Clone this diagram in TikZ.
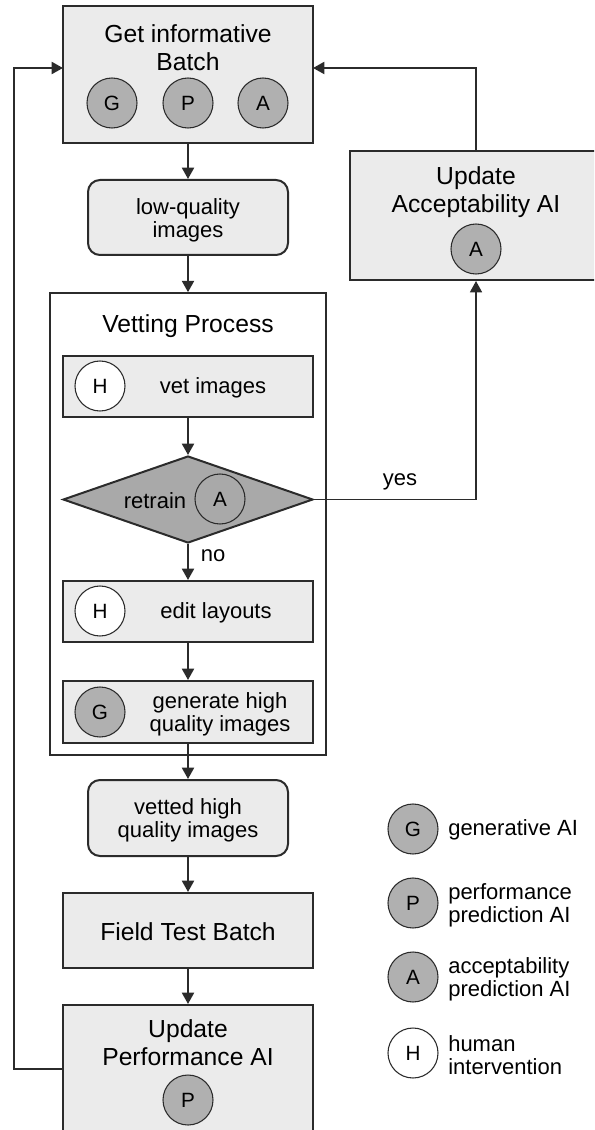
\documentclass[tikz,border=0pt]{standalone}
\usepackage{fontspec}
\setmainfont{Liberation Sans}
\usetikzlibrary{arrows.meta,shapes.geometric}
\definecolor{boxfill}{HTML}{EBEBEB}
\definecolor{circfill}{HTML}{B0B0B0}
\definecolor{diafill}{HTML}{A9A9A9}
\definecolor{edge}{HTML}{2B2B2B}
\begin{document}
\begin{tikzpicture}[x=0.75pt,y=-0.75pt,
 sz/.style 2 args={minimum width=#1*0.75pt,minimum height=#2*0.75pt},
 box/.style={draw=edge,line width=1.5pt,fill=boxfill,inner sep=0pt},
 rbox/.style={box,rounded corners=9pt,align=center,font=\fontsize{16.5}{17.5}\selectfont},
 ai/.style={circle,draw=edge,line width=0.8pt,fill=circfill,minimum size=37.5pt,inner sep=0pt,font=\fontsize{15.5}{15.5}\selectfont},
 hu/.style={ai,fill=white},
 big/.style={font=\fontsize{18.5}{21}\selectfont,align=center,inner sep=0pt},
 small/.style={font=\fontsize{16.5}{17.5}\selectfont,align=center,inner sep=0pt},
 leg/.style={font=\fontsize{16.5}{17.5}\selectfont,align=left,anchor=west,inner sep=0pt},
 arr/.style={draw=edge,line width=1.5pt,-{Triangle[length=8.5pt,width=9pt]}}]
\useasboundingbox (0,0) rectangle (594,1130);
\clip (0,0) rectangle (594,1130);
% top box
\node[box,sz={250}{137}] (top) at (188,74.5) {};
\node[big] (topt) at (188,48) {Get informative\\Batch};
\node[ai] (tg) at (112,103) {G};
\node[ai] (tp) at (188,103) {P};
\node[ai] (ta) at (263,103) {A};
\coordinate (tl) at (63,68);
\coordinate (tr) at (313,68);
% low quality
\node[rbox,sz={200}{75}] (low) at (188,217.5) {};
\node[small] (lowt) at (188,220) {low-quality\\images};
% vetting process
\node[draw=edge,line width=1.2pt,sz={276}{462},inner sep=0pt] (vp) at (188,524) {};
\node[big] (vpt) at (188,326) {Vetting Process};
\node[box,sz={250}{61}] (vet) at (188,386.5) {};
\node[hu] (veth) at (100,386) {H};
\node[small] (vett) at (213,388) {vet images};
\node[diamond,draw=edge,line width=1.5pt,fill=diafill,sz={250}{87},inner sep=0pt] (dia) at (188,499.5) {};
\node[small] (diat) at (155,501) {retrain};
\node[ai,fill=diafill] (diaa) at (220,499) {A};
\node[box,sz={250}{61}] (edit) at (188,611.5) {};
\node[hu] (edith) at (100,611) {H};
\node[small] (editt) at (216,613) {edit layouts};
\node[box,sz={250}{62}] (gen) at (188,712) {};
\node[ai] (geng) at (100,712) {G};
\node[small] (gent) at (220,714) {generate high\\quality images};
% lower chain
\node[rbox,sz={200}{76}] (vetted) at (188,818) {};
\node[small] (vettedt) at (188,820) {vetted high\\quality images};
\node[box,sz={250}{75}] (field) at (188,930.5) {};
\node[big] (fieldt) at (188,932) {Field Test Batch};
\node[box,sz={250}{128}] (perf) at (188,1069) {};
\node[big] (perft) at (188,1043) {Update\\Performance AI};
\node[ai] (perfp) at (188,1100) {P};
% acceptability
\node[box,sz={252}{129}] (acc) at (476,215.5) {};
\node[big] (acct) at (476,192) {Update\\Acceptability AI};
\node[ai] (acca) at (476,249) {A};
\coordinate (lc) at (14,68);
% labels
\node[small] (yes) at (400,482) {yes};
\node[small] (no) at (213,556) {no};
% legend
\node[ai] (lg) at (413,829) {G};
\node[leg] (lgt) at (448,830) {generative AI};
\node[ai] (lp) at (413,903) {P};
\node[leg] (lpt) at (448,905) {performance\\prediction AI};
\node[ai] (la) at (413,977) {A};
\node[leg] (lat) at (448,979) {acceptability\\prediction AI};
\node[hu] (lh) at (413,1053) {H};
\node[leg] (lht) at (448,1055) {human\\intervention};
% connectors
\draw[arr] (top.south) -- (low.north);
\draw[arr] (low.south) -- (vp.north);
\draw[arr] (vet.south) -- (dia.north);
\draw[arr] (dia.south) -- (edit.north);
\draw[arr] (edit.south) -- (gen.north);
\draw[arr] (gen.south) -- (vetted.north);
\draw[arr] (vetted.south) -- (field.north);
\draw[arr] (field.south) -- (perf.north);
\draw[arr,line width=1.2pt] (dia.east) -| (acc.south);
\draw[arr] (acc.north) |- (tr);
\draw[arr] (perf.west) -| (lc) -- (tl);
\end{tikzpicture}
\end{document}
